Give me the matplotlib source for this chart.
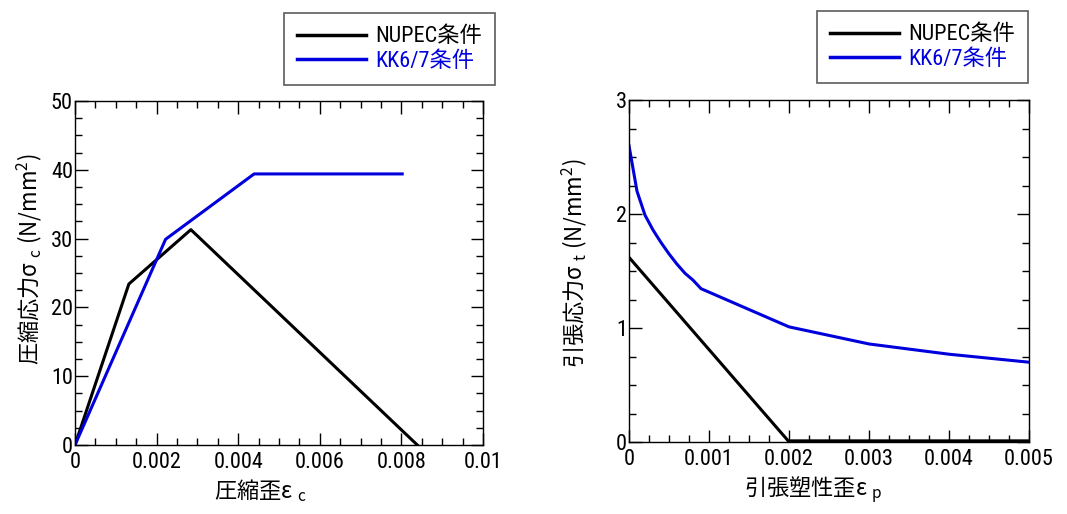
import matplotlib
matplotlib.use("Agg")
import matplotlib.pyplot as plt
from matplotlib.ticker import MultipleLocator, FixedLocator, FixedFormatter

FAM = ['Roboto Condensed', 'Noto Sans CJK JP', 'DejaVu Sans']
LABFAM = ['Noto Sans CJK JP', 'DejaVu Sans']
plt.rcParams['font.family'] = FAM
plt.rcParams['mathtext.fontset'] = 'custom'
plt.rcParams['mathtext.rm'] = 'Noto Sans CJK JP'
plt.rcParams['mathtext.it'] = 'Noto Sans CJK JP'
plt.rcParams['mathtext.bf'] = 'Noto Sans CJK JP'
plt.rcParams['mathtext.sf'] = 'Noto Sans CJK JP'

# ---- data: compression ----
comp_nupec_x = [0.0, 0.00132, 0.00284, 0.00839]
comp_nupec_y = [0.0, 23.4, 31.3, 0.0]
comp_kk_x = [0.0, 0.00222, 0.00439, 0.00802]
comp_kk_y = [0.0, 29.9, 39.4, 39.4]

# ---- data: tension ----
ten_nupec_x = [0.0, 0.00199, 0.005]
ten_nupec_y = [1.62, 0.01, 0.01]
ten_kk_x = [0.0, 0.0001, 0.0002, 0.0003, 0.0004, 0.0005, 0.0006, 0.0007, 0.0008, 0.0009,
            0.002, 0.003, 0.004, 0.005]
ten_kk_y = [2.60, 2.20, 1.99, 1.86, 1.75, 1.65, 1.56, 1.48, 1.42, 1.345,
            1.01, 0.86, 0.77, 0.70]

comp_xticks = [0, 0.002, 0.004, 0.006, 0.008, 0.01]
comp_xticklabels = ['0', '0.002', '0.004', '0.006', '0.008', '0.01']
comp_yticks = [0, 10, 20, 30, 40, 50]
ten_xticks = [0, 0.001, 0.002, 0.003, 0.004, 0.005]
ten_xticklabels = ['0', '0.001', '0.002', '0.003', '0.004', '0.005']
ten_yticks = [0, 1, 2, 3]

legend_labels = ['NUPEC条件', 'KK6/7条件']
BLUE = '#0000dd'

W, H = 1067, 514
fig = plt.figure(figsize=(W / 100, H / 100), dpi=100)

def box(l, r, t, b):
    return [l / W, 1 - b / H, (r - l) / W, (b - t) / H]

axL = fig.add_axes(box(75, 483, 101, 445))
axR = fig.add_axes(box(629, 1029, 100, 442))

def style(ax):
    ax.tick_params(which='both', direction='in', top=True, right=True, width=1, labelsize=16)
    ax.tick_params(which='major', length=9)
    ax.tick_params(which='minor', length=5)
    ax.tick_params(axis='y', pad=1.5)
    ax.tick_params(axis='x', pad=5)
    for s in ax.spines.values():
        s.set_linewidth(1)

# left
axL.plot(comp_nupec_x, comp_nupec_y, color='black', lw=2.2)
axL.plot(comp_kk_x, comp_kk_y, color=BLUE, lw=2.2)
axL.set_xlim(0, 0.01)
axL.set_ylim(0, 50)
axL.xaxis.set_major_locator(FixedLocator(comp_xticks))
axL.xaxis.set_major_formatter(FixedFormatter(comp_xticklabels))
axL.xaxis.set_minor_locator(MultipleLocator(0.0005))
axL.yaxis.set_major_locator(FixedLocator(comp_yticks))
axL.yaxis.set_minor_locator(MultipleLocator(2.5))
style(axL)
axL.set_xlabel('圧縮歪ε $_{\\rm c}$', fontsize=16, labelpad=3, family=LABFAM)
axL.set_ylabel('圧縮応力σ $_{\\rm c}$ (N/mm$^{2}$)', fontsize=16, labelpad=5, family=LABFAM)
axL.xaxis.label.set_x(0.455)
axL.yaxis.label.set_y(0.54)

# right
axR.plot(ten_nupec_x, ten_nupec_y, color='black', lw=2.2)
axR.plot(ten_kk_x, ten_kk_y, color=BLUE, lw=2.2)
axR.set_xlim(0, 0.005)
axR.set_ylim(0, 3)
axR.xaxis.set_major_locator(FixedLocator(ten_xticks))
axR.xaxis.set_major_formatter(FixedFormatter(ten_xticklabels))
axR.xaxis.set_minor_locator(MultipleLocator(0.00025))
axR.yaxis.set_major_locator(FixedLocator(ten_yticks))
axR.yaxis.set_minor_locator(MultipleLocator(0.25))
style(axR)
axR.set_xlabel('引張塑性歪ε $_{\\rm p}$', fontsize=16, labelpad=3, family=LABFAM)
axR.set_ylabel('引張応力σ $_{\\rm t}$ (N/mm$^{2}$)', fontsize=16, labelpad=19, family=LABFAM)
axR.xaxis.label.set_x(0.46)
axR.yaxis.label.set_y(0.523)

def add_legend(ax, left, top):
    h = [plt.Line2D([], [], color='black', lw=2.5), plt.Line2D([], [], color=BLUE, lw=2.5)]
    leg = ax.legend(h, legend_labels, loc='upper left',
                    bbox_to_anchor=(left / W, 1 - top / H), bbox_transform=fig.transFigure,
                    fontsize=16, frameon=True, fancybox=False, edgecolor='#333333',
                    handlelength=3.1, handletextpad=0.4, labelspacing=0.15,
                    borderpad=0.6, borderaxespad=0)
    leg.get_frame().set_linewidth(1.2)
    leg.get_texts()[1].set_color(BLUE)
    return leg

add_legend(axL, 284, 13)
add_legend(axR, 817, 11)

fig.savefig('out.png', dpi=100)
